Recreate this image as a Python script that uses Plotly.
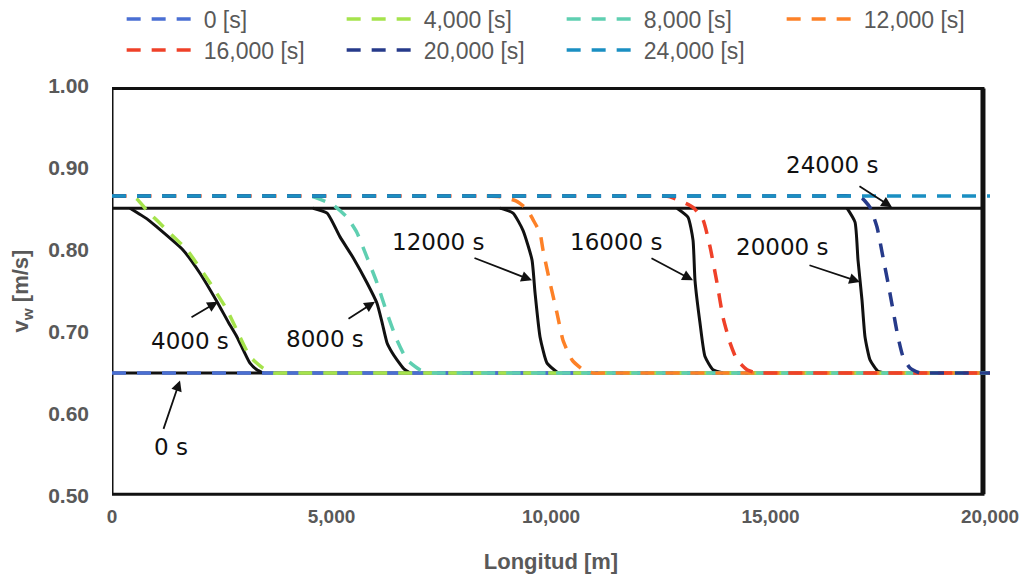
import plotly.graph_objects as go

# ---------------- data ----------------
series_names = ["0 [s]", "4,000 [s]", "8,000 [s]", "12,000 [s]", "16,000 [s]", "20,000 [s]", "24,000 [s]"]
series_colors = ["#4a6fd3", "#a5e34c", "#5fcfb1", "#fd8127", "#ef4129", "#263a8a", "#1a8fc2"]

x_0 = [0, 20000]
y_0 = [0.65, 0.65]

x_4000 = [0, 150, 300, 550, 800, 1253, 1708, 2232, 2620, 2915, 3143, 3440, 3667, 3950, 4250, 20000]
y_4000 = [0.866, 0.866, 0.866, 0.863, 0.848, 0.824, 0.800, 0.760, 0.727, 0.694, 0.670, 0.656, 0.650, 0.650, 0.650, 0.650]

x_8000 = [0, 3900, 4200, 4579, 5034, 5353, 5581, 5809, 6036, 6264, 6492, 6720, 7016, 7312, 7600, 7900, 20000]
y_8000 = [0.866, 0.866, 0.866, 0.865, 0.855, 0.840, 0.821, 0.791, 0.760, 0.723, 0.690, 0.666, 0.654, 0.650, 0.650, 0.650, 0.650]

x_12000 = [0, 8200, 8500, 8838, 9200, 9453, 9590, 9749, 9818, 9977, 10137, 10273, 10478, 10729, 10957, 11250, 11550, 20000]
y_12000 = [0.866, 0.866, 0.866, 0.865, 0.860, 0.850, 0.837, 0.821, 0.800, 0.760, 0.723, 0.690, 0.666, 0.654, 0.650, 0.650, 0.650, 0.650]

x_16000 = [0, 12100, 12400, 12711, 13235, 13462, 13622, 13781, 13918, 14077, 14237, 14465, 14692, 14990, 15290, 20000]
y_16000 = [0.866, 0.866, 0.866, 0.865, 0.852, 0.837, 0.804, 0.760, 0.718, 0.687, 0.666, 0.654, 0.650, 0.650, 0.650, 0.650]

x_20000 = [0, 16500, 16800, 17084, 17267, 17426, 17563, 17677, 17790, 17904, 18018, 18178, 18405, 18700, 19000, 20000]
y_20000 = [0.866, 0.866, 0.866, 0.863, 0.852, 0.828, 0.791, 0.760, 0.727, 0.694, 0.670, 0.656, 0.650, 0.650, 0.650, 0.650]

x_24000 = [0, 20000]
y_24000 = [0.866, 0.866]

# reference (scanned) solid curves
ref_top_x = [0, 19840]
ref_top_y = [0.851, 0.851]
ref_bot_x = [0, 19840]
ref_bot_y = [0.650, 0.650]
ref_4000_x = [410, 797, 1000, 1617, 2000, 2392, 2650, 2847, 3000, 3143, 3300, 3440]
ref_4000_y = [0.851, 0.838, 0.829, 0.800, 0.772, 0.737, 0.712, 0.694, 0.677, 0.662, 0.654, 0.650]
ref_8000_x = [4580, 4900, 5194, 5500, 5808, 6036, 6150, 6264, 6380, 6492, 6650, 6788]
ref_8000_y = [0.851, 0.845, 0.816, 0.790, 0.760, 0.735, 0.712, 0.687, 0.675, 0.666, 0.655, 0.650]
ref_12000_x = [8838, 9135, 9362, 9567, 9636, 9750, 9909, 10160]
ref_12000_y = [0.851, 0.845, 0.824, 0.788, 0.748, 0.694, 0.662, 0.650]
ref_16000_x = [12870, 13121, 13235, 13280, 13394, 13508, 13690, 13918]
ref_16000_y = [0.851, 0.840, 0.812, 0.763, 0.711, 0.670, 0.654, 0.650]
ref_20000_x = [16743, 16925, 16993, 17084, 17153, 17267, 17449, 17600]
ref_20000_y = [0.851, 0.834, 0.788, 0.739, 0.694, 0.666, 0.652, 0.650]

# labels in the scanned figure: text, text pos, arrow tail, arrow head
label_texts = ["0 s", "4000 s", "8000 s", "12000 s", "16000 s", "20000 s", "24000 s"]
label_x = [1344, 1777, 4852, 7426, 11481, 15262, 16401]
label_y = [0.560, 0.689, 0.691, 0.810, 0.810, 0.804, 0.904]
arrow_tail_x = [1162, 1777, 5353, 8223, 12255, 15854, 16993]
arrow_tail_y = [0.580, 0.717, 0.715, 0.791, 0.791, 0.782, 0.879]
arrow_head_x = [1549, 2415, 5991, 9567, 13235, 17039, 17768]
arrow_head_y = [0.641, 0.737, 0.737, 0.763, 0.763, 0.761, 0.852]

x_tickvals = [0, 5000, 10000, 15000, 20000]
x_ticktext = ["0", "5,000", "10,000", "15,000", "20,000"]
y_tickvals = [0.5, 0.6, 0.7, 0.8, 0.9, 1.0]
y_ticktext = ["0.50", "0.60", "0.70", "0.80", "0.90", "1.00"]

# ---------------- figure ----------------
fig = go.Figure()

ref_sets = [(ref_top_x, ref_top_y), (ref_bot_x, ref_bot_y), (ref_4000_x, ref_4000_y),
            (ref_8000_x, ref_8000_y), (ref_12000_x, ref_12000_y), (ref_16000_x, ref_16000_y),
            (ref_20000_x, ref_20000_y)]
for rx, ry in ref_sets:
    fig.add_trace(go.Scatter(x=rx, y=ry, mode="lines", showlegend=False, hoverinfo="skip",
                             line=dict(color="#111111", width=3, shape="spline", smoothing=0.5)))

xs = [x_0, x_4000, x_8000, x_12000, x_16000, x_20000, x_24000]
ys = [y_0, y_4000, y_8000, y_12000, y_16000, y_20000, y_24000]
for i, (name, c, xv, yv) in enumerate(zip(series_names, series_colors, xs, ys)):
    fig.add_trace(go.Scatter(x=xv, y=yv, mode="lines", name=name,
                             legend="legend" if i < 4 else "legend2",
                             line=dict(color=c, width=3.5, dash="14px,11px", shape="spline", smoothing=0.5)))

# frame of the scanned figure
fig.add_shape(type="rect", x0=0, x1=19840, y0=0.502, y1=0.997, xref="x", yref="y",
              line=dict(color="#111111", width=3), layer="below")
fig.add_shape(type="line", x0=19840, x1=19840, y0=0.502, y1=0.997, xref="x", yref="y",
              line=dict(color="#111111", width=5), layer="below")

for t, lx, ly in zip(label_texts, label_x, label_y):
    fig.add_annotation(x=lx, y=ly, text=t, showarrow=False, xref="x", yref="y",
                       font=dict(family="DejaVu Sans", size=23, color="#111111"))
for tx, ty, hx, hy in zip(arrow_tail_x, arrow_tail_y, arrow_head_x, arrow_head_y):
    fig.add_annotation(x=hx, y=hy, ax=tx, ay=ty, xref="x", yref="y", axref="x", ayref="y",
                       text="", showarrow=True, arrowhead=2, arrowsize=1.2, arrowwidth=1.8,
                       arrowcolor="#111111")

legend_common = dict(orientation="h", xanchor="left", yanchor="middle",
                     xref="paper", yref="container",
                     entrywidth=133, entrywidthmode="pixels", itemwidth=72,
                     font=dict(size=23, color="#595959"), bgcolor="rgba(0,0,0,0)")

fig.update_layout(
    width=1021, height=573,
    margin=dict(l=104, r=39, t=78, b=85),
    plot_bgcolor="white", paper_bgcolor="white",
    font=dict(family="Liberation Sans, Arial, sans-serif", color="#595959"),
    legend=dict(x=0.011, y=0.9805, **legend_common),
    legend2=dict(x=0.011, y=0.9267, **legend_common),
    xaxis=dict(range=[0, 20000], tickvals=x_tickvals, ticktext=x_ticktext,
               showgrid=False, zeroline=False, showline=False, ticks="",
               automargin=False, ticklabelstandoff=7,
               tickfont=dict(size=19, color="#595959", weight="bold"),
               title=dict(text="Longitud [m]", standoff=27,
                          font=dict(size=22, color="#595959", weight="bold"))),
    yaxis=dict(range=[0.5, 1.0], tickvals=y_tickvals, ticktext=y_ticktext,
               showgrid=False, zeroline=False, showline=False, ticks="",
               automargin=False, ticklabelstandoff=22,
               tickfont=dict(size=21, color="#595959", weight="bold"),
               title=dict(text="v<sub>w</sub> [m/s]", standoff=15,
                          font=dict(size=22, color="#595959", weight="bold"))),
)

fig.write_html("out.html")
